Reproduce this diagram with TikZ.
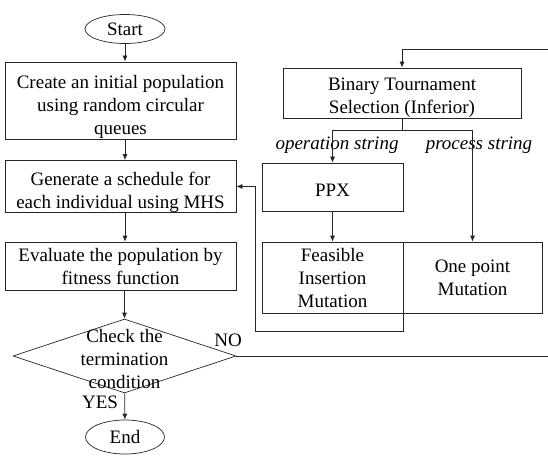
\documentclass[tikz,border=0pt]{standalone}
\usepackage{fontspec}
\setmainfont{Liberation Serif}
\usepackage{tikz}
\usetikzlibrary{positioning,shapes.geometric,arrows.meta}
\newcommand{\topgap}[1]{\rule{0pt}{#1}}

\begin{document}
\begin{tikzpicture}[x=1pt,y=-1pt,
  every node/.style={font=\fontsize{19}{23}\selectfont,inner sep=0pt,align=center},
  flowbox/.style={draw,rectangle,minimum width=231pt},
  gabox/.style={draw,rectangle,minimum height=48pt},
  term/.style={draw,ellipse,minimum width=80pt},
  arr/.style={-{Latex[length=6pt,width=5pt]}},
  line width=0.7pt,draw=black!85]
\useasboundingbox (0,0) rectangle (548,457);
% main flow
\node[term,minimum height=29pt] (start) at (125,29) {Start};
\node[flowbox,minimum height=75pt] (init) at (120.5,100.5)
  {\topgap{27pt}Create an initial population\\using random circular\\queues};
\node[flowbox,minimum height=49pt] (sched) at (120.5,186.5)
  {\topgap{25pt}Generate a schedule for\\each individual using MHS};
\node[flowbox,minimum height=48pt] (eval) at (120.5,266)
  {Evaluate the population by\\fitness function};
\node[draw,diamond,minimum width=223pt,minimum height=74pt] (check) at (124.5,356) {};
\node[yshift=-3pt] (checktxt) at (check.center) {Check the\\termination\\condition};
\node[term,minimum height=34pt,minimum width=79pt] (end) at (125,437) {End};
\node (no) at (228,340) {NO};
\node (yes) at (100,402) {YES};
% genetic operators
\node[gabox,minimum width=238pt] (bts) at (402,93)
  {\topgap{23pt}Binary Tournament\\Selection (Inferior)};
\node[gabox,minimum width=141pt] (ppx) at (332.5,187) {\topgap{19pt}PPX};
\node[draw,minimum width=141pt,minimum height=71pt] (fim) at (332.5,277.5)
  {Feasible\\Insertion\\Mutation};
\node[draw,minimum width=139pt,minimum height=71pt] (opm) at (472.5,277.5)
  {One point\\Mutation};
\node (opstr) at (337,145) {\itshape operation string};
\node (prstr) at (479,145) {\itshape process string};
% connectors
\draw[arr] (start) -- (init.north -| start);
\draw[arr] (init.south -| start) -- (sched.north -| start);
\draw[arr] (sched.south -| start) -- (eval.north -| start);
\draw[arr] (eval.south -| check) -- (check.north);
\draw[arr] (check) -- (end);
\draw (bts.south) -- ++(0,12) coordinate (split);
\draw[arr] (split) -| (ppx.north);
\draw[arr] (split) -| (opm.north);
\draw[arr] (ppx) -- (fim);
\coordinate (fb) at (255,331);
\draw[arr] (fim.south east) |- (fb) |- (sched.east);
\coordinate (noend) at (549.5,49);
\draw[arr] (check.east) -| (noend) -| (bts.north);
\end{tikzpicture}
\end{document}
